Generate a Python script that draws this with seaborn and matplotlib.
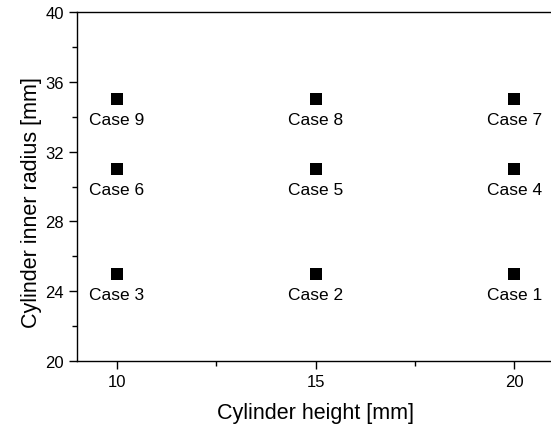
import matplotlib
matplotlib.use('Agg')
import matplotlib.pyplot as plt
import pandas as pd
import numpy as np
import seaborn as sns
from matplotlib.ticker import MultipleLocator

height = [20, 15, 10, 20, 15, 10, 20, 15, 10]
radius = [25, 25, 25, 31, 31, 31, 35, 35, 35]
cases = ['Case 1', 'Case 2', 'Case 3', 'Case 4', 'Case 5', 'Case 6',
         'Case 7', 'Case 8', 'Case 9']

dat = pd.DataFrame(data={'height': height, 'radius': radius, 'case': cases})

sns.set_style('ticks')
plt.rcParams['font.family'] = ['Liberation Sans', 'DejaVu Sans']
plt.rcParams['text.color'] = 'black'
plt.rcParams['axes.labelcolor'] = 'black'
plt.rcParams['xtick.color'] = 'black'
plt.rcParams['ytick.color'] = 'black'

fig = plt.figure(figsize=(5.51, 4.31), dpi=100)
# axes box runs past the right edge of the figure, as in the original
ax = fig.add_axes([77/551, 1 - 362/431, (554 - 77)/551, (362 - 13)/431])

sns.scatterplot(data=dat, x='height', y='radius', marker='s', s=64,
                color='black', edgecolor='black', linewidth=0, ax=ax, legend=False)
for h, r, c in zip(height, radius, cases):
    ax.annotate(c, (h, r), xytext=(0, -25), textcoords='offset pixels',
                ha='center', va='baseline', fontsize=12.5, color='black')

ax.set_xlim(9, 21)
ax.set_ylim(20, 40)
ax.xaxis.set_major_locator(MultipleLocator(5))
ax.xaxis.set_minor_locator(MultipleLocator(2.5))
ax.yaxis.set_major_locator(MultipleLocator(4))
ax.yaxis.set_minor_locator(MultipleLocator(2))
ax.tick_params(which='major', direction='out', length=6, width=1, labelsize=12)
ax.tick_params(which='minor', direction='out', length=3.5, width=1)
for sp in ax.spines.values():
    sp.set_linewidth(1)
    sp.set_color('black')

ax.set_xlabel('Cylinder height [mm]', fontsize=15.5, labelpad=9)
ax.set_ylabel('Cylinder inner radius [mm]', fontsize=15.5)
ax.yaxis.set_label_coords(-0.073, 0.458)

plt.savefig('out.png', dpi=100)
